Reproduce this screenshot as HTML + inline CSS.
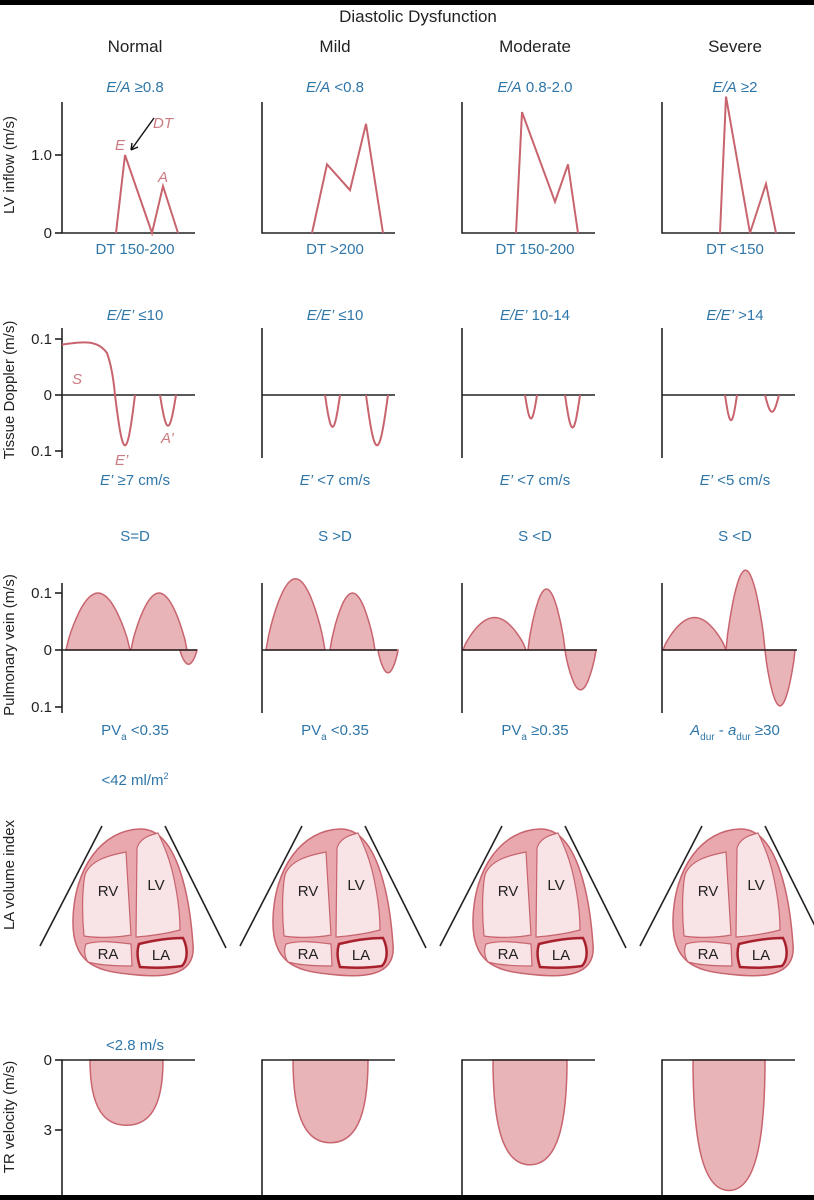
<!DOCTYPE html>
<html><head><meta charset="utf-8"><style>
html,body{margin:0;padding:0;background:#fff}
svg{display:block}
text{font-family:"Liberation Sans",sans-serif}
.b{fill:#2f76a8;font-size:15px;text-anchor:middle}
.h{fill:#222;font-size:17px;text-anchor:middle}
.yt{fill:#222;font-size:15px;text-anchor:middle}
.tk{fill:#222;font-size:15px;text-anchor:end}
.ax{stroke:#222;stroke-width:1.6;fill:none}
.ln{stroke:#c8646e;stroke-width:2;fill:none}
.ar{stroke:#c8646e;stroke-width:1.5;fill:#e8b4b8}
.pl{fill:#cc7a82;font-size:15px;font-style:italic}
</style></head><body>
<svg id="fig" width="814" height="1200" viewBox="0 0 814 1200">
<rect x="0" y="0" width="814" height="5" fill="#000"/>
<rect x="0" y="1195" width="814" height="5" fill="#000"/>
<text x="418" y="22" class="h">Diastolic Dysfunction</text>
<g id="g"></g>
</svg>
<script>
const grades=["Normal","Mild","Moderate","Severe"];
const eaLabels=["≥0.8","<0.8","0.8-2.0","≥2"];
const dtLabels=["DT 150-200","DT  >200","DT  150-200","DT  <150"];
const eeLabels=["≤10","≤10","10-14",">14"];
const ePrimeLabels=["≥7 cm/s","<7 cm/s","<7 cm/s","<5 cm/s"];
const pvTitles=["S=D","S >D","S <D","S <D"];
// LV inflow: [start, Epeak, Eend/dip, Apeak, end] x-offsets and values
const lvX=[[54,63,90,101,116],[50,65,88,104,121],[54,60,93,106,116],[58,64,88,104,114]];
const lvV=[[0,1.0,0,0.6,0],[0,0.88,0.55,1.4,0],[0,1.55,0.4,0.88,0],[0,1.75,0,0.63,0]];
// tissue doppler troughs
const tdE=[-0.09,-0.057,-0.042,-0.045];
const tdA=[-0.055,-0.09,-0.058,-0.03];
const tdEx=[[53,73],[63,78],[63,75],[63,75]];
const tdAx=[[98,114],[104,126],[103,118],[103,117]];
// pulmonary vein
const pvS=[0.1,0.125,0.057,0.057];
const pvD=[0.1,0.1,0.107,0.14];
const pvAR=[-0.025,-0.04,-0.07,-0.098];
const pvSx=[[4,68],[4,63],[1,64],[1,64]];
const pvDx=[[69,125],[68,113],[66,103],[64,103]];
const pvARx=[[118,135],[116,136],[103,134],[103,133]];
// TR velocity depth (m/s)
const trV=[2.8,3.55,4.5,5.6];
const trX=[[28,101],[31,106],[31,105],[31,103]];

const NS="http://www.w3.org/2000/svg";
const G=document.getElementById('g');
function mk(tag,attrs,parent,txt){const e=document.createElementNS(NS,tag);for(const k in attrs)e.setAttribute(k,attrs[k]);if(txt!==undefined)e.textContent=txt;(parent||G).appendChild(e);return e;}
const yLV=v=>233-v*78, yTD=v=>395-v*560, yPV=v=>650-v*570, yTR=v=>1060+v*23.3;
function hump(x0,x1,h,yf,base){let d="";const n=24;for(let i=0;i<=n;i++){const t=i/n;const x=x0+(x1-x0)*t;const y=yf(h*Math.pow(Math.sin(Math.PI*t),0.8));d+=(i?"L":"M")+x.toFixed(1)+","+y.toFixed(1);}return d;}
function ujoin(x0,x1,h,yf){let d="";const n=20;for(let i=0;i<=n;i++){const t=i/n;const x=x0+(x1-x0)*t;const y=yf(h*Math.sin(Math.PI*t));d+="L"+x.toFixed(1)+","+y.toFixed(1);}return d;}

// y titles
[["LV inflow (m/s)",170],["Tissue Doppler (m/s)",395],["Pulmonary vein (m/s)",650],["LA volume index",880],["TR velocity (m/s)",1122]].forEach((a,i)=>{
 const t=mk('text',{x:19,y:a[1],class:'yt',transform:`rotate(-90 14 ${a[1]})`},G,a[0]);
 
 
});
// ticks col 0
[[155,"1.0"],[233,"0"],[339,"0.1"],[395,"0"],[451,"0.1"],[593,"0.1"],[650,"0"],[707,"0.1"],[1060,"0"],[1130,"3"]].forEach(a=>{
 const l=mk('line',{x1:55,x2:62,y1:a[0],y2:a[0],class:'ax'});
 
 
 const t=mk('text',{x:52,y:a[0]+5,class:'tk'},G,a[1]);
 
 
});

for(let c=0;c<4;c++){
 const ox=62+200*c;
 const g=mk('g',{});
 
 
 const hd=mk('text',{x:ox+73,y:52,class:'h'},g,grades[c]);
 
 
 // row 1
 const t1=mk('text',{x:ox+73,y:92,class:'b'},g);
 
 
 mk('tspan',{'font-style':'italic'},t1,'E/A');mk('tspan',{},t1,' '+eaLabels[c]);
 mk('path',{d:`M${ox},102V233H${ox+133}`,class:'ax'},g);
 let d="";lvX[c].forEach((x,i)=>{d+=(i?"L":"M")+(ox+x)+","+yLV(lvV[c][i]);});
 const p1=mk('path',{d:`M${ox+lvX[c][0]},233`+d.replace(/^M/,'L'),class:'ln'},g);
 
 
 const t2=mk('text',{x:ox+73,y:254,class:'b'},g,dtLabels[c]);
 
 
 // row 2
 const t3=mk('text',{x:ox+73,y:320,class:'b'},g);
 
 
 mk('tspan',{'font-style':'italic'},t3,"E/E’");mk('tspan',{},t3,' '+eeLabels[c]);
 mk('path',{d:`M${ox},328V458M${ox},395H${ox+133}`,class:'ax'},g);
 let d2="";
 if(c===0){d2=`M${ox},${yTD(0.09)}C${ox+20},${yTD(0.095)} ${ox+35},${yTD(0.1)} ${ox+45},${yTD(0.075)}C${ox+50},${yTD(0.05)} ${ox+52},${yTD(0.02)} ${ox+tdEx[c][0]},395`;}
 else d2=`M${ox+tdEx[c][0]},395`;
 d2+=ujoin(ox+tdEx[c][0],ox+tdEx[c][1],tdE[c],yTD)+`M${ox+tdAx[c][0]},395`+ujoin(ox+tdAx[c][0],ox+tdAx[c][1],tdA[c],yTD);
 const p2=mk('path',{d:d2,class:'ln'},g);
 
 
 const t4=mk('text',{x:ox+73,y:485,class:'b'},g);
 
 
 mk('tspan',{'font-style':'italic'},t4,"E’");mk('tspan',{},t4,' '+ePrimeLabels[c]);
 // row 3
 const t5=mk('text',{x:ox+73,y:541,class:'b'},g,pvTitles[c]);
 
 
 [[pvSx,pvS],[pvDx,pvD],[pvARx,pvAR]].forEach((a,k)=>{
  const hp=hump(ox+a[0][c][0],ox+a[0][c][1],a[1][c],yPV)+"Z";
  const p=mk('path',{d:hp,class:'ar'},g);
  
  
 });
 mk('path',{d:`M${ox},583V713M${ox},650H${ox+135}`,class:'ax'},g);
 const t6=mk('text',{x:ox+73,y:735,class:'b'},g);
 
 
 if(c<3){mk('tspan',{},t6,'PV');mk('tspan',{'font-size':'10',dy:'5'},t6,'a');mk('tspan',{dy:'-5'},t6,' '+(c<2?'<0.35':'≥0.35'));}
 else{mk('tspan',{'font-style':'italic'},t6,'A');mk('tspan',{'font-size':'10',dy:'5'},t6,'dur');mk('tspan',{dy:'-5'},t6,' - ');mk('tspan',{'font-style':'italic'},t6,'a');mk('tspan',{'font-size':'10',dy:'5'},t6,'dur');mk('tspan',{dy:'-5'},t6,' ≥30');}
 // row 4 heart
 const hg=mk('g',{transform:`translate(${200*c},0)`},g);
 
 
 mk('path',{d:'M40,946L102,826M165,826L226,948',class:'ax','stroke-width':'1.4'},hg);
 mk('path',{d:'M140,829C178,828 190,900 193,945C196,978 160,978 128,974C95,971 72,962 73,920C74,868 102,830 140,829Z',fill:'#e8a8ae',stroke:'#c8646e','stroke-width':'1.5'},hg);
 mk('path',{d:'M85,875C90,860 110,855 126,852L131,935C115,938 95,938 84,936C82,915 82,890 85,875Z',fill:'#f8e4e6',stroke:'#c8646e','stroke-width':'1.2'},hg);
 mk('path',{d:'M137,848C140,838 150,835 158,833C164,845 168,855 172,870C178,895 180,915 180,930C165,934 150,936 136,937Z',fill:'#f8e4e6',stroke:'#c8646e','stroke-width':'1.2'},hg);
 mk('path',{d:'M86,944C100,940 115,942 131,944L132,966C115,966 98,965 88,962C84,956 84,949 86,944Z',fill:'#f8e4e6',stroke:'#c8646e','stroke-width':'1.2'},hg);
 mk('path',{d:'M139,944C155,940 170,938 183,938C188,948 188,960 182,966C168,968 152,968 140,967C137,958 137,950 139,944Z',fill:'#f8e4e6',stroke:'#a8202c','stroke-width':'2.5'},hg);
 [["RV",108,896],["LV",156,890],["RA",108,959],["LA",161,960]].forEach(a=>{
  const t=mk('text',{x:a[1],y:a[2],'font-size':'15',fill:'#222','text-anchor':'middle'},hg,a[0]);
  
  
 });
 // row 5
 const x0=ox+trX[c][0],x1=ox+trX[c][1],yb=yTR(trV[c]);
 const trd=`M${x0},1060C${x0},${1060+(yb-1060)*0.75} ${x0+(x1-x0)*0.2},${yb} ${(x0+x1)/2},${yb}C${x1-(x1-x0)*0.2},${yb} ${x1},${1060+(yb-1060)*0.75} ${x1},1060Z`;
 const tr=mk('path',{d:trd,class:'ar'},g);
 
 
 mk('path',{d:`M${ox},1195V1060H${ox+133}`,class:'ax'},g);
}
// extra labels
[["E",115,150],["A",158,182],["S",72,384],["E’",115,465],["A’",161,443],["DT",153,128]].forEach(a=>{
 const t=mk('text',{x:a[1],y:a[2],class:'pl'},G,a[0]);
 
 
});
mk('path',{d:'M154,118L131,150M131,150l1,-7M131,150l7,-3',stroke:'#111','stroke-width':'1.4',fill:'none'});
const la=mk('text',{x:135,y:785,class:'b'},G);


mk('tspan',{},la,'<42 ml/m');mk('tspan',{'font-size':'9',dy:'-6'},la,'2');
const trl=mk('text',{x:135,y:1050,class:'b'},G,'<2.8 m/s');


</script>
</body></html>
